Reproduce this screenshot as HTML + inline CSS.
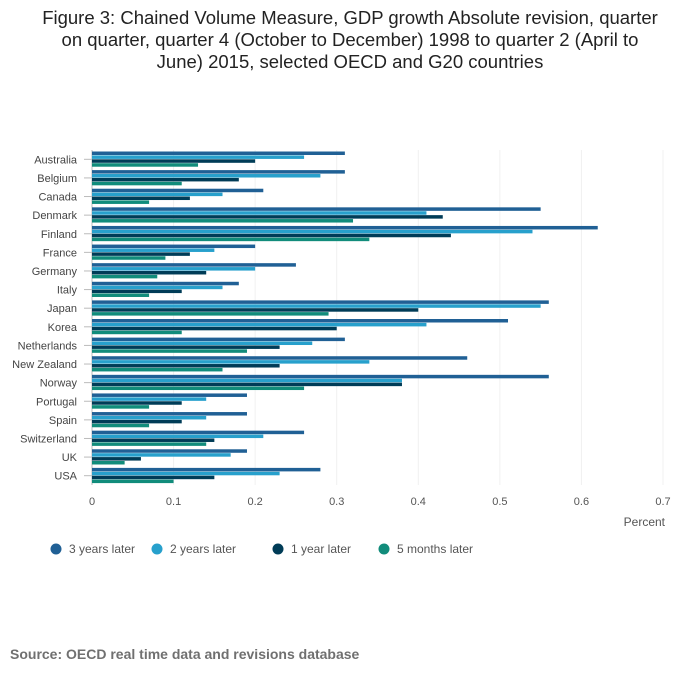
<!DOCTYPE html>
<html><head><meta charset="utf-8"><style>
body{margin:0;background:#fff;font-family:"Liberation Sans",sans-serif;}
#wrap{position:relative;width:700px;height:682px;overflow:hidden;}
#title{position:absolute;left:0;top:7px;width:700px;text-align:center;font-size:18.5px;line-height:22px;color:#222;}
#source{position:absolute;left:10px;top:646px;font-size:14px;font-weight:bold;color:#707070;}
</style></head><body>
<div id="wrap">
<div id="title">Figure 3: Chained Volume Measure, GDP growth Absolute revision, quarter<br>on quarter, quarter 4 (October to December) 1998 to quarter 2 (April to<br>June) 2015, selected OECD and G20 countries</div>
<svg id="chart" width="700" height="682" style="position:absolute;left:0;top:0"></svg>
<div id="source">Source: OECD real time data and revisions database</div>
</div>
<script>
const categories=["Australia","Belgium","Canada","Denmark","Finland","France","Germany","Italy","Japan","Korea","Netherlands","New Zealand","Norway","Portugal","Spain","Switzerland","UK","USA"];
const seriesNames=["3 years later","2 years later","1 year later","5 months later"];
const threeYears=[0.31,0.31,0.21,0.55,0.62,0.20,0.25,0.18,0.56,0.51,0.31,0.46,0.56,0.19,0.19,0.26,0.19,0.28];
const twoYears=[0.26,0.28,0.16,0.41,0.54,0.15,0.20,0.16,0.55,0.41,0.27,0.34,0.38,0.14,0.14,0.21,0.17,0.23];
const oneYear=[0.20,0.18,0.12,0.43,0.44,0.12,0.14,0.11,0.40,0.30,0.23,0.23,0.38,0.11,0.11,0.15,0.06,0.15];
const fiveMonths=[0.13,0.11,0.07,0.32,0.34,0.09,0.08,0.07,0.29,0.11,0.19,0.16,0.26,0.07,0.07,0.14,0.04,0.10];
const ticks=[0,0.1,0.2,0.3,0.4,0.5,0.6,0.7];
const series=[threeYears,twoYears,oneYear,fiveMonths];
const colors=["#206095","#27a0cc","#003c57","#118c7b"];
const NS="http://www.w3.org/2000/svg";
const svg=document.getElementById('chart');
const x0=92,x1=663,y0=150,y1=485;
const xs=v=>x0+(v/0.7)*(x1-x0);
const band=(y1-y0)/categories.length;
function mk(t,a,txt){const e=document.createElementNS(NS,t);for(const k in a)e.setAttribute(k,a[k]);if(txt!=null)e.textContent=txt;svg.appendChild(e);return e;}
ticks.forEach(t=>{
 const g=mk('line',{x1:xs(t),x2:xs(t),y1:y0,y2:y1,stroke:t===0?'#bbb':'#f0f0f0','stroke-width':1});
 
 
 const l=mk('text',{x:xs(t),y:505,'text-anchor':'middle','font-size':11,fill:'#555'},String(t));
 
 
});
const xt=mk('text',{x:665,y:526,'text-anchor':'end','font-size':12,fill:'#555'},'Percent');


const pad=1.5,bh=(band-2*pad)/4;
categories.forEach((c,i)=>{
 const gy=y0+i*band;
 const l=mk('text',{x:77,y:gy+band/2+4,'text-anchor':'end','font-size':11,fill:'#444'},c);
 
 
 mk('line',{x1:84,x2:92,y1:gy+band/2,y2:gy+band/2,stroke:'#bbb'});
 series.forEach((s,j)=>{
  const r=mk('rect',{x:x0,y:gy+pad+j*bh,width:xs(s[i])-x0,height:bh-0.4,fill:colors[j]});
  
  
 });
});
const lx=[50,151,272,378];
seriesNames.forEach((n,j)=>{
 const c=mk('circle',{cx:lx[j]+6,cy:549,r:5.5,fill:colors[j]});
 
 
 const t=mk('text',{x:lx[j]+19,y:553,'font-size':12,fill:'#555'},n);
 
 
});
</script>
</body></html>
